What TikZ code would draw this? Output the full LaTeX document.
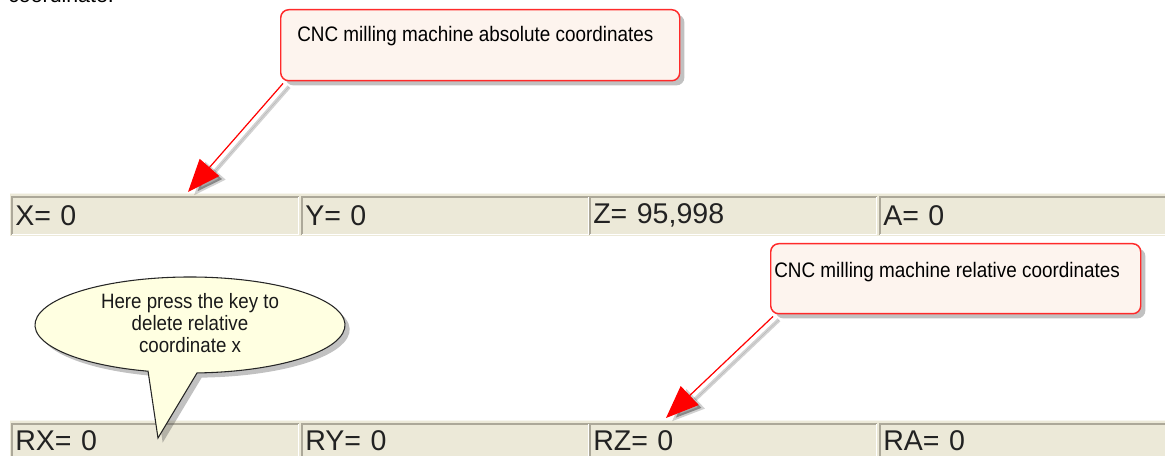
\documentclass[tikz,border=0pt]{standalone}
\usepackage{fontspec}
\setmainfont{Liberation Sans}
\newfontfamily\callfont[FakeStretch=0.9]{Liberation Sans}
\usetikzlibrary{arrows.meta,shadows,calc}
\definecolor{panel}{HTML}{ECE9D8}
\definecolor{celldark}{HTML}{ACA899}
\definecolor{callfill}{HTML}{FDF4EE}
\definecolor{callred}{HTML}{FF2A2A}
\definecolor{tipfill}{HTML}{FFFFE1}
\definecolor{stattext}{HTML}{222222}
\begin{document}
\begin{tikzpicture}[x=0.75pt,y=-0.75pt,
  cell/.style={anchor=north west, fill=panel, inner xsep=2.25pt, inner ysep=0pt,
    text width=210pt, minimum height=27.75pt, align=left, text=stattext,
    font=\fontsize{21.4}{24}\selectfont},
  lowcell/.style={cell, minimum height=24pt},
  callbox/.style={anchor=north west, draw=callred, line width=1.1pt, fill=callfill,
    rounded corners=6pt, inner sep=0pt,
    drop shadow={shadow xshift=3.5pt, shadow yshift=-3.5pt, opacity=0.35, fill=black!70}},
  calltext/.style={inner sep=0pt, font=\callfont\fontsize{15.75}{18}\selectfont, text=black},
  pointer/.style={draw=red, line width=0.9pt, -{Triangle[length=24.5pt,width=19.4pt]}, fill=red},
  pointershadow/.style={draw=black, draw opacity=0.18, line width=3pt,
    -{Triangle[length=24.5pt,width=19.4pt]}, fill=black, fill opacity=0.35,
    transform canvas={shift={(4.5pt,-2.5pt)}}},
  bubble/.style={draw=black!85, line width=0.8pt, fill=tipfill,
    drop shadow={shadow xshift=3.5pt, shadow yshift=-3.5pt, opacity=0.35, fill=black!70}},
  bubbletext/.style={align=center, inner sep=0pt, text=black!90,
    font=\callfont\fontsize{15.6}{16.5}\selectfont}
]
\useasboundingbox (0,0) rectangle (1165,456);
\clip (0,0) rectangle (1165,456);

% text of the page above, cut off by the picture's top edge
\node[anchor=base west, inner sep=0pt, font=\fontsize{16}{18}\selectfont] (prev) at (8,3) {coordinate:};

% ---------- top status bar ----------
\fill[panel] (10,193) rectangle (1165,236);
\draw[white!60!panel, line width=0.8pt] (10,193.5) -- (1165,193.5);
\node[cell] (cx) at (12,197) {X= 0};
\node[cell] (cy) at (302,197) {Y= 0};
\node[cell] (cz) at (590,197) {Z= 95,998};
\node[cell] (ca) at (880,197) {A= 0};
\foreach \c in {cx,cy,cz,ca}{
  \draw[celldark, line width=1.1pt] (\c.south west) -- (\c.north west) -- (\c.north east);
  \draw[white, line width=1.1pt] (\c.north east) -- (\c.south east) -- (\c.south west);
}

% ---------- bottom status bar ----------
\fill[panel] (10,420) rectangle (1165,456);
\draw[white!60!panel, line width=0.8pt] (10,420.5) -- (1165,420.5);
\node[lowcell] (crx) at (12,424) {RX= 0};
\node[lowcell] (cry) at (302,424) {RY= 0};
\node[lowcell] (crz) at (590,424) {RZ= 0};
\node[lowcell] (cra) at (880,424) {RA= 0};
\foreach \c in {crx,cry,crz,cra}{
  \draw[celldark, line width=1.1pt] (\c.south west) -- (\c.north west) -- (\c.north east);
  \draw[white, line width=1.1pt] (\c.north east) -- (\c.south east);
}

% ---------- callout 1 ----------
\node[callbox, minimum width=299.25pt, minimum height=53.25pt] (c1) at (280,9) {};
\node[calltext, anchor=west] (c1t) at (297,36) {CNC milling machine absolute coordinates};
\coordinate (t1) at (188,192);
\draw[pointershadow] ([shift={(3,2)}]c1.south west) -- (t1);
\draw[pointer] ([shift={(3,2)}]c1.south west) -- (t1);

% ---------- callout 2 ----------
\node[callbox, minimum width=277.5pt, minimum height=52.5pt] (c2) at (770,243) {};
\node[calltext, anchor=west] (c2t) at (774,272) {CNC milling machine relative coordinates};
\coordinate (t2) at (666,418);
\draw[pointershadow] ([shift={(3,2)}]c2.south west) -- (t2);
\draw[pointer] ([shift={(3,2)}]c2.south west) -- (t2);

% ---------- speech bubble ----------
\coordinate (tip) at (158,438);
\draw[bubble] (190,325) ++(105.7:155 and 48)
  arc[start angle=105.7, end angle=447.4, x radius=155, y radius=48] -- (tip) -- cycle;
\node[bubbletext] (hint) at (190,323) {Here press the key to\\delete relative\\coordinate x};
\end{tikzpicture}
\end{document}
